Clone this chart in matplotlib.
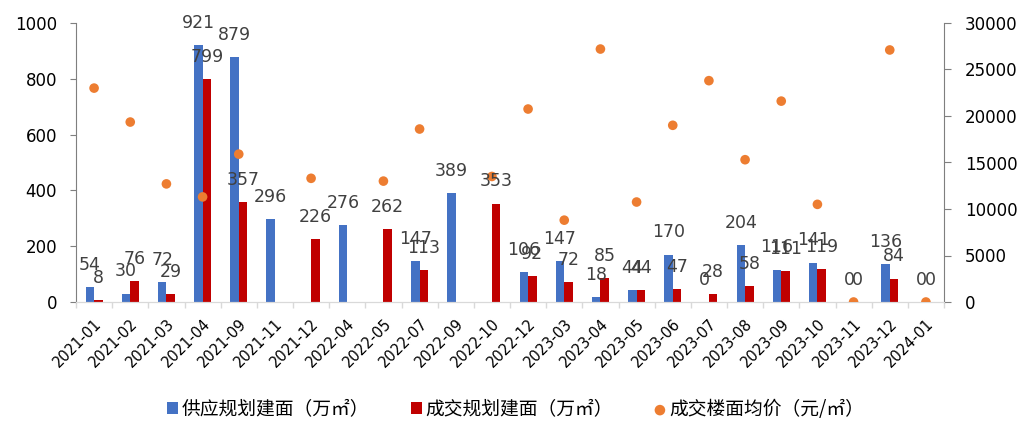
import numpy as np
import matplotlib
matplotlib.use("Agg")
import matplotlib.pyplot as plt
import matplotlib.transforms as mtransforms

categories = ["2021-01", "2021-02", "2021-03", "2021-04", "2021-09", "2021-11",
              "2021-12", "2022-04", "2022-05", "2022-07", "2022-09", "2022-10",
              "2022-12", "2023-03", "2023-04", "2023-05", "2023-06", "2023-07",
              "2023-08", "2023-09", "2023-10", "2023-11", "2023-12", "2024-01"]
nan = np.nan
supply = [54, 30, 72, 921, 879, 296, nan, 276, nan, 147, 389, nan,
          106, 147, 18, 44, 170, 0, 204, 116, 141, 0, 136, 0]
deal = [8, 76, 29, 799, 357, nan, 226, nan, 262, 113, nan, 353,
        92, 72, 85, 44, 47, 28, 58, 111, 119, 0, 84, 0]
price = [23000, 19350, 12700, 11300, 15900, nan, 13300, nan, 13000, 18600, nan, 13500,
         20750, 8800, 27200, 10750, 19000, 23800, 15300, 21600, 10500, 0, 27100, 0]

series_names = ["供应规划建面（万㎡）", "成交规划建面（万㎡）", "成交楼面均价（元/㎡）"]
colors = ["#4472C4", "#C00000", "#ED7D31"]

fig = plt.figure(figsize=(10.32, 4.38), dpi=100)
ax = fig.add_axes([76/1032, 1-302/438, 868/1032, 279/438])
ax2 = ax.twinx()

x = np.arange(len(categories))
w = 0.235
b1 = ax.bar(x - w/2, supply, w, color=colors[0], label=series_names[0])
b2 = ax.bar(x + w/2, deal, w, color=colors[1], label=series_names[1])
sc = ax2.scatter(x, price, s=48, color=colors[2], zorder=5, label=series_names[2],
                 edgecolors='none')

ax.set_xlim(-0.5, len(categories) - 0.5)
ax.set_ylim(0, 1000)
ax2.set_ylim(0, 30000)
ax.set_yticks(range(0, 1001, 200))
ax2.set_yticks(range(0, 30001, 5000))

# data labels on top layer
for vals, off in ((supply, -w/2), (deal, w/2)):
    for xi, v in zip(x, vals):
        if np.isnan(v):
            continue
        ax2.annotate(f"{v:.0f}", xy=(xi + off, v), xycoords=ax.transData,
                     xytext=(0, 9.5), textcoords='offset points', ha='center', va='bottom',
                     fontsize=12.5, color='#404040', family='DejaVu Sans', zorder=6)

ax.set_xticks(x)
ax.set_xticklabels(categories, rotation=45, ha='right', rotation_mode='anchor',
                   fontsize=10.5, family='DejaVu Sans')
shift = mtransforms.ScaledTranslation(3/100, 0, fig.dpi_scale_trans)
for lab in ax.get_xticklabels():
    lab.set_transform(lab.get_transform() + shift)
ax.set_xticks(np.arange(-0.5, len(categories), 1), minor=True)
ax.tick_params(axis='x', which='major', length=0, pad=10)
ax.tick_params(axis='x', which='minor', length=4, color='#d9d9d9', width=1)
ax.tick_params(axis='y', length=4.5, color='#7f7f7f', labelsize=12, pad=9)
ax2.tick_params(axis='y', length=5, color='#7f7f7f', labelsize=12, pad=10)

for a in (ax, ax2):
    a.spines['top'].set_visible(False)
    a.spines['left'].set_color('#7f7f7f')
    a.spines['right'].set_color('#7f7f7f')
    a.spines['bottom'].set_color('#d9d9d9')
ax2.spines['left'].set_visible(False)
ax.spines['right'].set_visible(False)

leg = fig.legend([b1, b2, sc], series_names, loc='center', bbox_to_anchor=(0.4995, 0.066),
                 ncol=3, frameon=False, handlelength=0.6, handleheight=0.6,
                 handletextpad=0.2, columnspacing=2.2, markerscale=1.1,
                 prop={'family': ['Noto Sans CJK SC', 'DejaVu Sans'], 'size': 13.5})

fig.savefig("out.png", dpi=100)
